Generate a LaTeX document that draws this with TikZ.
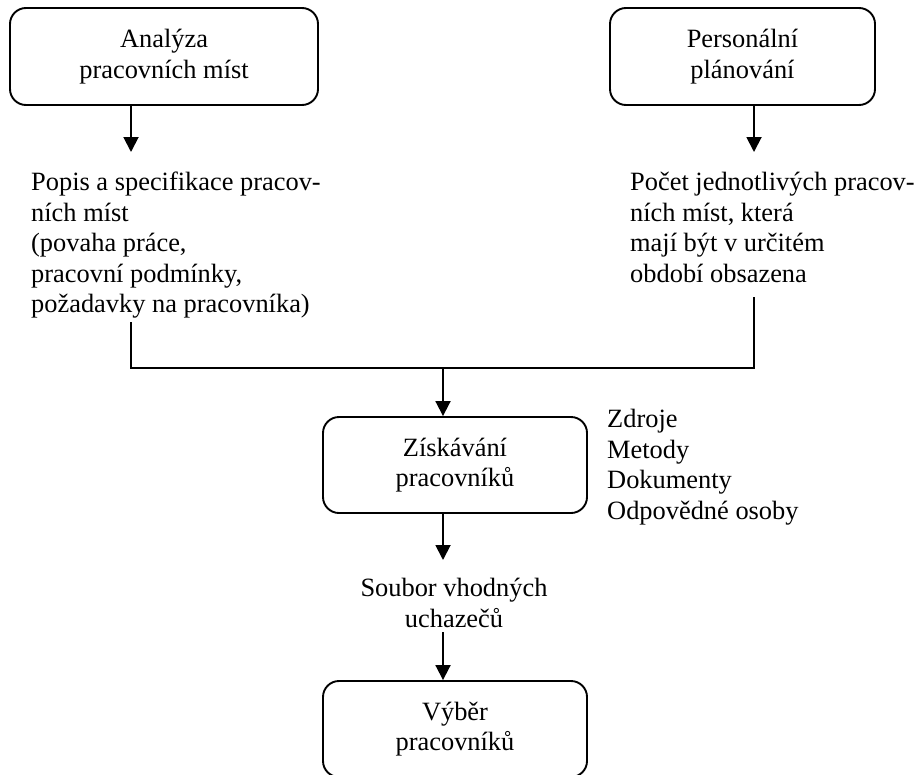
\documentclass[tikz,border=0pt]{standalone}
\usepackage{fontspec}
\setmainfont{Liberation Serif}
\usetikzlibrary{arrows.meta}
\begin{document}
\begin{tikzpicture}[x=1pt,y=-1pt,
  every node/.style={font=\fontsize{26.4}{30.5}\selectfont, inner sep=0pt},
  procbox/.style={draw, line width=1.9pt, rounded corners=16pt, align=center},
  txt/.style={align=left},
  conn/.style={line width=1.9pt},
  arr/.style={conn, -{Triangle[width=15pt,length=15pt]}}]
\useasboundingbox (0,0) rectangle (920,774);
\fill[white] (0,0) rectangle (920,774);

% boxes
\node[procbox, minimum width=308pt, minimum height=97pt] (box1) at (164,56.5) {Analýza\\pracovních míst};
\node[procbox, minimum width=265pt, minimum height=97pt] (box2) at (742.5,56.5) {Personální\\plánování};
\node[procbox, minimum width=264pt, minimum height=96pt] (box3) at (455,465) {Získávání\\pracovníků};
\node[procbox, minimum width=264pt, minimum height=96pt] (box4) at (455,729) {Výběr\\pracovníků};

% texts
\node[txt, anchor=north west] (t1) at (31,172) {Popis a specifikace pracov-\\ních míst\\(povaha práce,\\pracovní podmínky,\\požadavky na pracovníka)};
\node[txt, anchor=north west] (t2) at (630,172) {Počet jednotlivých pracov-\\ních míst, která\\mají být v určitém\\období obsazena};
\node[txt, anchor=north west] (t3) at (607,409) {Zdroje\\Metody\\Dokumenty\\Odpovědné osoby};
\node[align=center, anchor=north] (t4) at (454,578) {Soubor vhodných\\uchazečů};

% connector points
\coordinate (a1) at (131,152);
\coordinate (a2) at (754,152);
\coordinate (l1) at (131,322);
\coordinate (r1) at (754,297);
\coordinate (j) at (443,368);
\coordinate (s1) at (443,560);
\coordinate (s2) at (443,632);

\draw[arr] (box1.south -| a1) -- (a1);
\draw[arr] (box2.south -| a2) -- (a2);
\draw[conn] (l1) |- (j);
\draw[conn] (r1) |- (j);
\draw[arr] (j) -- (box3.north -| j);
\draw[arr] (box3.south -| s1) -- (s1);
\draw[arr] (s2) -- (box4.north -| s2);
\end{tikzpicture}
\end{document}
